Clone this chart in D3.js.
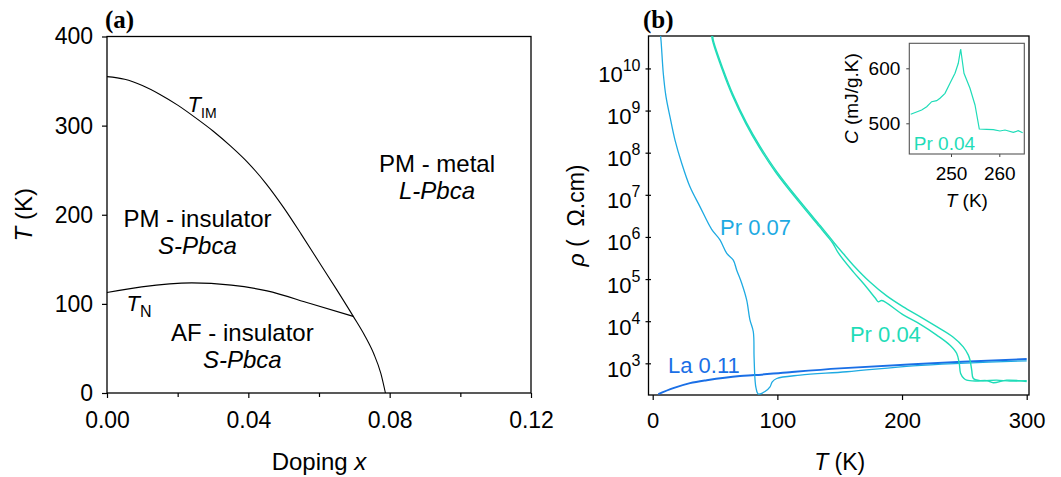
<!DOCTYPE html>
<html>
<head>
<meta charset="utf-8">
<script src="https://cdn.jsdelivr.net/npm/d3@7"></script>
<style>
  html, body { margin: 0; padding: 0; background: #fff; }
  svg { display: block; }
</style>
</head>
<body>
<svg id="chart" width="1061" height="477"></svg>
<script>
// ---------- Panel (a): phase diagram, doping x vs temperature (K) ----------
const dopingTicks = [0, 0.04, 0.08, 0.12];
const dopingMinorTicks = [0.02, 0.06, 0.10];
const tempTicks = [0, 100, 200, 300, 400];

// insulator-metal transition line T_IM
const boundaryTIM = [
  [0.000, 355], [0.005, 352], [0.010, 345], [0.015, 335], [0.020, 323],
  [0.025, 309], [0.030, 294], [0.035, 277], [0.040, 258], [0.045, 235],
  [0.050, 208], [0.055, 178], [0.060, 147], [0.065, 116], [0.0697, 86],
  [0.073, 64], [0.0755, 44], [0.0775, 22], [0.0788, 0]
];
// Neel line T_N
const boundaryTN = [
  [0.0, 112.7], [0.0098, 119.1], [0.0240, 123.6], [0.0352, 121.0],
  [0.0453, 114.6], [0.0575, 100.4], [0.0697, 86]
];
// region names: [x, T, first line, second line (italic)]
const regionLabels = [
  [0.0934, 248.4, "PM - metal", "L-Pbca"],
  [0.0256, 185.8, "PM - insulator", "S-Pbca"],
  [0.0383, 58.4, "AF - insulator", "S-Pbca"]
];
// transition-line names: [x, T, symbol, subscript]
const lineLabels = [
  [0.0228, 315.5, "T", "IM"],
  [0.0055, 91.8, "T", "N"]
];

// ---------- Panel (b): resistivity rho (log10 of Ohm.cm) vs T (K) ----------
const tempTicksB = [0, 100, 200, 300];
const rhoExponents = [3, 4, 5, 6, 7, 8, 9, 10];

const pr007 = [
  [6.0, 10.85], [6.66, 10.67], [8.5, 9.88], [10.67, 9.33], [13.88, 8.85],
  [17.89, 8.30], [23.26, 7.75], [29.9, 7.19], [37.9, 6.72], [47.3, 6.18],
  [53.95, 5.93], [59.4, 5.61], [64.65, 5.45], [67.4, 5.21], [71.4, 4.90],
  [75.4, 4.50], [78.0, 4.03], [80.7, 3.75], [81.3, 3.16], [82.1, 2.60],
  [82.9, 2.41], [84.7, 2.27], [90.1, 2.33], [94.1, 2.44], [95.9, 2.56],
  [99.5, 2.64], [118.3, 2.72], [155.6, 2.80], [208.8, 2.94], [246.5, 3.00],
  [300, 3.06]
];
const pr004Warming = [
  [47.9, 10.85], [48.6, 10.67], [56.6, 9.97], [64.7, 9.36], [75.4, 8.70],
  [86.1, 8.15], [99.5, 7.55], [118.3, 6.84], [134.3, 6.27], [141.0, 6.03],
  [147.0, 5.81], [153.0, 5.60], [160.9, 5.33], [174.3, 4.93], [187.7, 4.60],
  [201.0, 4.34], [214.4, 4.11], [227.8, 3.87], [241.1, 3.62], [249.1, 3.39],
  [253.1, 3.20], [254.5, 3.08], [255.9, 2.84], [257.2, 2.64], [262.5, 2.59],
  [275.9, 2.60], [286.6, 2.58], [300, 2.59]
];
const pr004Cooling = [
  [47.2, 10.85], [47.9, 10.67], [55.9, 9.96], [64.0, 9.35], [74.7, 8.69],
  [85.4, 8.13], [98.8, 7.53], [117.6, 6.82], [133.6, 6.25], [140.3, 6.01],
  [144.5, 5.85], [148.9, 5.62], [160.9, 5.17], [168.9, 4.90], [178.5, 4.55],
  [181.0, 4.46], [183.7, 4.49], [201.0, 4.15], [214.4, 3.93], [227.8, 3.67],
  [238.5, 3.43], [243.8, 3.24], [245.9, 3.00], [247.0, 2.76], [249.7, 2.64],
  [251.9, 2.60], [259.0, 2.58], [267.9, 2.59], [273.2, 2.54], [283.9, 2.60],
  [300, 2.57]
];
const la011 = [
  [4.5, 2.27], [16.5, 2.41], [29.9, 2.53], [43.3, 2.60], [70, 2.70],
  [82, 2.72], [110, 2.79], [150, 2.88], [209, 2.98], [300, 3.10]
];
// series name tags: [T, log10 rho, text, colour]
const seriesTags = [
  [54.0, 6.04, "Pr 0.07", "#1eaae2"],
  [158.2, 3.51, "Pr 0.04", "#1fdcb8"],
  [12.3, 2.78, "La 0.11", "#1a6fe6"]
];

// ---------- Inset: specific heat C (mJ/g.K) vs T (K) ----------
const insetTempTicks = [250, 260];
const insetHeatTicks = [500, 600];
const heatCapacity = [
  [241.66, 516.4], [243.93, 524.2], [244.97, 530.2], [246.0, 539.3],
  [247.04, 541.1], [247.72, 545.5], [248.76, 554.5], [249.79, 572.7],
  [250.83, 590.9], [251.51, 609.1], [252.0, 635.1], [252.69, 590.9],
  [253.93, 563.6], [254.97, 533.3], [255.86, 489.6], [257.39, 489.1],
  [258.76, 488.4], [260.14, 486.0], [261.18, 487.8], [262.9, 483.6],
  [263.93, 486.5], [264.84, 482.9]
];

// ---------------------------------------------------------------
const FONT = '"Liberation Sans", Arial, Helvetica, sans-serif';
const SERIF = '"Liberation Serif", "Times New Roman", serif';
const svg = d3.select("#chart");

function styleAxis(g, size) {
  g.attr("font-family", FONT).attr("font-size", size);
  g.selectAll(".tick line").attr("stroke", "#000").attr("stroke-width", 1.2);
  g.selectAll(".tick text").attr("fill", "#000");
  g.select(".domain").remove();
}

function box(g, x0, y0, x1, y1, colour, width) {
  g.append("rect")
    .attr("x", x0).attr("y", y0)
    .attr("width", x1 - x0).attr("height", y1 - y0)
    .attr("fill", "none").attr("stroke", colour).attr("stroke-width", width);
}

// ================= Panel (a) =================
const A = { left: 107, right: 531, top: 36.5, bottom: 393 };
const xA = d3.scaleLinear().domain([0, 0.12]).range([A.left, A.right]);
const yA = d3.scaleLinear().domain([0, 400]).range([A.bottom, A.top]);
const gA = svg.append("g");

gA.append("g").attr("transform", `translate(${A.left},0)`)
  .call(d3.axisLeft(yA).tickValues(tempTicks).tickSize(5).tickPadding(9))
  .call(g => styleAxis(g, 23));
gA.append("g").attr("transform", `translate(0,${A.bottom})`)
  .call(d3.axisBottom(xA).tickValues(dopingTicks).tickFormat(d3.format(".2f"))
    .tickSize(5).tickPadding(14))
  .call(g => styleAxis(g, 23));
gA.append("g").attr("transform", `translate(0,${A.bottom})`)
  .call(d3.axisBottom(xA).tickValues(dopingMinorTicks).tickFormat("").tickSize(4))
  .call(g => styleAxis(g, 23));
box(gA, A.left, A.top, A.right, A.bottom, "#000", 1.3);

const lineA = d3.line().x(d => xA(d[0])).y(d => yA(d[1])).curve(d3.curveMonotoneX);
[boundaryTIM, boundaryTN].forEach(pts => {
  gA.append("path").attr("d", lineA(pts))
    .attr("fill", "none").attr("stroke", "#000").attr("stroke-width", 1.1);
});

regionLabels.forEach(([x, t, l1, l2]) => {
  const tx = gA.append("text").attr("font-family", FONT).attr("font-size", 24)
    .attr("text-anchor", "middle").attr("fill", "#000");
  tx.append("tspan").attr("x", xA(x)).attr("y", yA(t)).text(l1);
  tx.append("tspan").attr("x", xA(x)).attr("dy", 27).attr("font-style", "italic").text(l2);
});
lineLabels.forEach(([x, t, sym, sub]) => {
  const tx = gA.append("text").attr("font-family", FONT).attr("font-size", 22)
    .attr("x", xA(x)).attr("y", yA(t)).attr("fill", "#000");
  tx.append("tspan").attr("font-style", "italic").text(sym);
  tx.append("tspan").attr("font-size", sub.length > 1 ? 14 : 16).attr("dy", 6).text(sub);
});

// axis titles
gA.append("text").attr("font-family", FONT).attr("font-size", 24)
  .attr("text-anchor", "middle")
  .attr("transform", `translate(32,${(A.top + A.bottom) / 2}) rotate(-90)`)
  .call(t => {
    t.append("tspan").attr("font-style", "italic").text("T");
    t.append("tspan").text(" (K)");
  });
gA.append("text").attr("font-family", FONT).attr("font-size", 24)
  .attr("text-anchor", "middle").attr("x", (A.left + A.right) / 2).attr("y", 470)
  .call(t => {
    t.append("tspan").text("Doping ");
    t.append("tspan").attr("font-style", "italic").text("x");
  });
gA.append("text").attr("font-family", SERIF).attr("font-weight", "bold")
  .attr("font-size", 25).attr("x", A.left - 2).attr("y", 28).text("(a)");

// ================= Panel (b) =================
const B = { left: 648.5, right: 1029, top: 36, bottom: 395 };
const xB = d3.scaleLinear().domain([0, 300]).range([652.7, 1026.7]);
const yB = d3.scaleLog().domain([Math.pow(10, 2.248), Math.pow(10, 10.77)]).range([B.bottom, B.top]);
const gB = svg.append("g");

svg.append("defs").append("clipPath").attr("id", "clipB")
  .append("rect").attr("x", B.left).attr("y", B.top)
  .attr("width", B.right - B.left).attr("height", B.bottom - B.top);

gB.append("g").attr("transform", `translate(${B.left},0)`)
  .call(d3.axisLeft(yB).tickValues(rhoExponents.map(e => Math.pow(10, e)))
    .tickFormat("").tickSize(3).tickPadding(8))
  .call(g => styleAxis(g, 22))
  .call(g => {
    g.selectAll(".tick line").attr("x2", -3).attr("x1", 2.5);
    g.selectAll(".tick").append("text")
      .attr("x", -8).attr("y", 13).attr("text-anchor", "end").attr("fill", "#000")
      .each(function (d) {
        const t = d3.select(this);
        t.append("tspan").text("10");
        t.append("tspan").attr("font-size", 16).attr("dy", -11)
          .text(Math.round(Math.log10(d)));
      });
  });
gB.append("g").attr("transform", `translate(0,${B.bottom})`)
  .call(d3.axisBottom(xB).tickValues(tempTicksB).tickSize(5).tickPadding(12))
  .call(g => styleAxis(g, 22));
box(gB, B.left, B.top, B.right, B.bottom, "#000", 1.3);

const lineB = d3.line().x(d => xB(d[0])).y(d => yB(Math.pow(10, d[1])))
  .curve(d3.curveCatmullRom.alpha(0.5));
const plotB = gB.append("g").attr("clip-path", "url(#clipB)");
[
  [la011, "#1a6fe6", 2.0],
  [pr007, "#1eaae2", 1.3],
  [pr004Cooling, "#1fdcb8", 1.4],
  [pr004Warming, "#1fdcb8", 1.4]
].forEach(([pts, colour, w]) => {
  plotB.append("path").attr("d", lineB(pts))
    .attr("fill", "none").attr("stroke", colour).attr("stroke-width", w)
    .attr("stroke-linejoin", "round");
});

seriesTags.forEach(([t, r, text, colour]) => {
  gB.append("text").attr("font-family", FONT).attr("font-size", 22)
    .attr("x", xB(t)).attr("y", yB(Math.pow(10, r))).attr("fill", colour).text(text);
});

// axis titles
gB.append("text").attr("font-family", FONT).attr("font-size", 23)
  .attr("text-anchor", "middle").attr("xml:space", "preserve")
  .style("white-space", "pre")
  .attr("transform", `translate(584,${(B.top + B.bottom) / 2}) rotate(-90)`)
  .call(t => {
    t.append("tspan").attr("font-style", "italic").text("\u03c1");
    t.append("tspan").text(" (  \u03a9.cm)");
  });
gB.append("text").attr("font-family", FONT).attr("font-size", 23)
  .attr("text-anchor", "middle").attr("x", (xB(0) + xB(300)) / 2).attr("y", 470)
  .call(t => {
    t.append("tspan").attr("font-style", "italic").text("T");
    t.append("tspan").text(" (K)");
  });
gB.append("text").attr("font-family", SERIF).attr("font-weight", "bold")
  .attr("font-size", 25).attr("x", 643).attr("y", 28).text("(b)");

// ================= Inset =================
const I = { left: 909.3, right: 1024.3, top: 43.3, bottom: 154 };
const xI = d3.scaleLinear().domain([250, 260]).range([951, 999.3]);
const yI = d3.scaleLinear().domain([500, 600]).range([123.3, 68.3]);
const gI = svg.append("g");
gI.append("rect").attr("x", I.left).attr("y", I.top)
  .attr("width", I.right - I.left).attr("height", I.bottom - I.top).attr("fill", "#fff");
gI.append("g").attr("transform", `translate(${I.left},0)`)
  .call(d3.axisLeft(yI).tickValues(insetHeatTicks).tickSize(3).tickPadding(6))
  .call(g => styleAxis(g, 19));
gI.append("g").attr("transform", `translate(0,${I.bottom})`)
  .call(d3.axisBottom(xI).tickValues(insetTempTicks).tickSize(3).tickPadding(10))
  .call(g => styleAxis(g, 19));
gI.selectAll(".tick line").attr("stroke", "#444").attr("stroke-width", 1);

const lineI = d3.line().x(d => xI(d[0])).y(d => yI(d[1]));
gI.append("path").attr("d", lineI(heatCapacity))
  .attr("fill", "none").attr("stroke", "#1fdcb8").attr("stroke-width", 1.2);
box(gI, I.left, I.top, I.right, I.bottom, "#555", 1.1);

gI.append("text").attr("font-family", FONT).attr("font-size", 19)
  .attr("x", xI(242.3)).attr("y", yI(451.5)).attr("fill", "#1fdcb8").text("Pr 0.04");
gI.append("text").attr("font-family", FONT).attr("font-size", 19)
  .attr("text-anchor", "middle")
  .attr("transform", `translate(858,${(I.top + I.bottom) / 2}) rotate(-90)`)
  .call(t => {
    t.append("tspan").attr("font-style", "italic").text("C");
    t.append("tspan").text(" (mJ/g.K)");
  });
gI.append("text").attr("font-family", FONT).attr("font-size", 19)
  .attr("text-anchor", "middle").attr("x", (I.left + I.right) / 2).attr("y", 207)
  .call(t => {
    t.append("tspan").attr("font-style", "italic").text("T");
    t.append("tspan").text(" (K)");
  });
</script>
</body>
</html>
